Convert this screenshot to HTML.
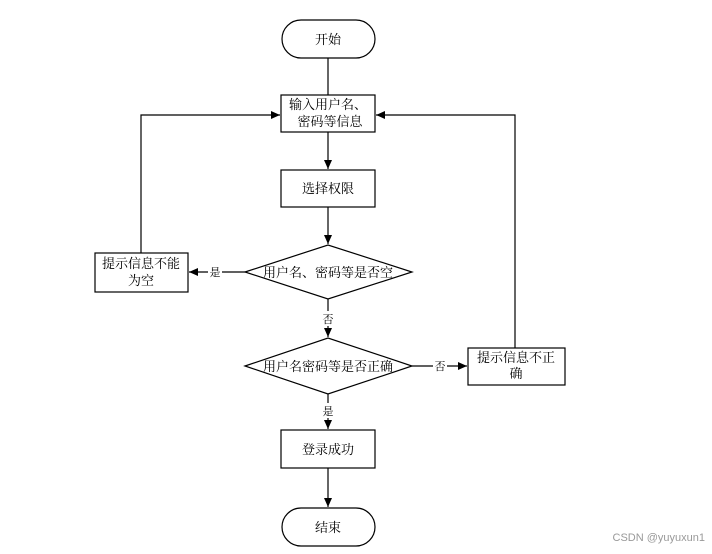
<!DOCTYPE html>
<html><head><meta charset="utf-8"><style>
html,body{margin:0;padding:0;background:#fff;}
svg text{font-family:"Liberation Serif","Noto Serif CJK SC",serif;font-size:13px;fill:#000;}
</style></head><body>
<svg width="712" height="549" viewBox="0 0 712 549" xmlns="http://www.w3.org/2000/svg">
<defs><marker id="a" markerWidth="10" markerHeight="10" refX="9" refY="5" orient="auto" markerUnits="userSpaceOnUse"><path d="M0,1 L9,5 L0,9 Z" fill="#000"/></marker></defs>
<g fill="none" stroke="#000" stroke-width="1.2">
<rect x="282" y="20" width="93" height="38" rx="19"/>
<rect x="281" y="95" width="94" height="37"/>
<rect x="281" y="170" width="94" height="37"/>
<polygon points="245,272 328,245 412,272 328,299"/>
<rect x="95" y="253" width="93" height="39"/>
<polygon points="245,366 328,338 412,366 328,394"/>
<rect x="468" y="348" width="97" height="37"/>
<rect x="281" y="430" width="94" height="38"/>
<rect x="282" y="508" width="93" height="38" rx="19"/>
<line x1="328" y1="58" x2="328" y2="95"/>
<line x1="328" y1="132" x2="328" y2="169" marker-end="url(#a)"/>
<line x1="328" y1="207" x2="328" y2="244" marker-end="url(#a)"/>
<line x1="328" y1="299" x2="328" y2="337" marker-end="url(#a)"/>
<line x1="328" y1="394" x2="328" y2="429" marker-end="url(#a)"/>
<line x1="328" y1="468" x2="328" y2="507" marker-end="url(#a)"/>
<line x1="245" y1="272" x2="189" y2="272" marker-end="url(#a)"/>
<line x1="412" y1="366" x2="467" y2="366" marker-end="url(#a)"/>
<polyline points="141,253 141,115 280,115" marker-end="url(#a)"/>
<polyline points="515,348 515,115 376,115" marker-end="url(#a)"/>
</g>
<g text-anchor="middle">
<text x="328" y="44">开始</text>
<text x="328" y="109">输入用户名、</text>
<text x="330" y="126">密码等信息</text>
<text x="328" y="193">选择权限</text>
<text x="328" y="277">用户名、密码等是否空</text>
<text x="141" y="268">提示信息不能</text>
<text x="141" y="285">为空</text>
<text x="328" y="371">用户名密码等是否正确</text>
<text x="516" y="362">提示信息不正</text>
<text x="516" y="378">确</text>
<text x="328" y="454">登录成功</text>
<text x="328" y="532">结束</text>
<rect x="208" y="264" width="14" height="15" fill="#fff"/>
<text x="215" y="276" style="font-size:11px">是</text>
<rect x="321" y="311" width="14" height="15" fill="#fff"/>
<text x="328" y="323" style="font-size:11px">否</text>
<rect x="433" y="358" width="14" height="15" fill="#fff"/>
<text x="440" y="370" style="font-size:11px">否</text>
<rect x="321" y="403" width="14" height="15" fill="#fff"/>
<text x="328" y="415" style="font-size:11px">是</text>
</g>
<text x="705" y="541" text-anchor="end" style="font-family:'Liberation Sans',sans-serif;font-size:11px;fill:#999">CSDN @yuyuxun1</text>
</svg>
</body></html>
